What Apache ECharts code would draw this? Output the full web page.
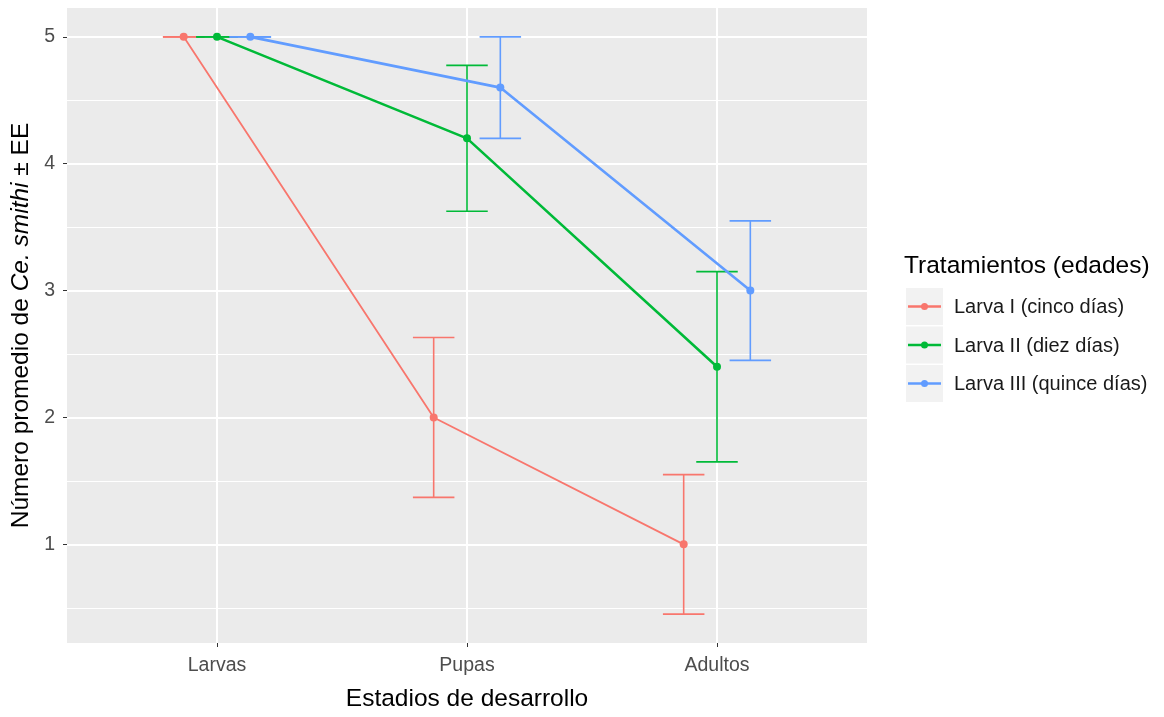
<!DOCTYPE html>
<html>
<head>
<meta charset="utf-8">
<script src="https://cdn.jsdelivr.net/npm/echarts@6/dist/echarts.min.js"></script>
<style>
  html, body { margin: 0; padding: 0; background: #fff; }
  #chart { width: 1164px; height: 717px; }
</style>
</head>
<body>
<div id="chart"></div>
<script>
// datos
var estadios = ['Larvas', 'Pupas', 'Adultos'];
var tratamientos = ['Larva I (cinco días)', 'Larva II (diez días)', 'Larva III (quince días)'];
var colores = ['#F8766D', '#00BA38', '#619CFF'];
var dodge = [-0.1333, 0, 0.1333];

var media = [
  [5, 2.0, 1.0],
  [5, 4.2, 2.4],
  [5, 4.6, 3.0]
];
var inferior = [
  [5, 1.37, 0.45],
  [5, 3.625, 1.65],
  [5, 4.2, 2.45]
];
var superior = [
  [5, 2.63, 1.55],
  [5, 4.775, 3.15],
  [5, 5.0, 3.55]
];
var yTicks = [1, 2, 3, 4, 5];
var yMinor = [0.5, 1.5, 2.5, 3.5, 4.5];

(function () {
  var myChart = echarts.init(document.getElementById('chart'));
  var capHalf = 0.083;
  var fuente = '"Liberation Sans", Arial, sans-serif';

  var series = [];

  // lineas de cuadricula (fondo estilo ggplot), en la capa de abajo
  var gridLines = [];
  yMinor.forEach(function (v) {
    gridLines.push({ yAxis: v, lineStyle: { width: 1 } });
  });
  yTicks.forEach(function (v) {
    gridLines.push({ yAxis: v, lineStyle: { width: 2 } });
  });
  estadios.forEach(function (e, i) {
    gridLines.push({ xAxis: i + 1, lineStyle: { width: 2 } });
  });
  series.push({
    type: 'line',
    data: [],
    zlevel: 0,
    z: 1,
    silent: true,
    markLine: {
      silent: true,
      symbol: 'none',
      label: { show: false },
      lineStyle: { color: '#ffffff', type: 'solid' },
      data: gridLines
    }
  });

  tratamientos.forEach(function (t, k) {
    var pts = [];
    var bars = [];
    for (var i = 0; i < estadios.length; i++) {
      var x = i + 1 + dodge[k];
      pts.push([x, media[k][i]]);
      bars.push([x, inferior[k][i], superior[k][i]]);
    }
    // barras de error
    series.push({
      type: 'custom',
      name: t + ' EE',
      zlevel: 1,
      z: 3,
      data: bars,
      renderItem: function (params, api) {
        var x = api.value(0);
        var lo = api.coord([x, api.value(1)]);
        var hi = api.coord([x, api.value(2)]);
        var l = api.coord([x - capHalf, 0])[0];
        var r = api.coord([x + capHalf, 0])[0];
        var st = { stroke: colores[k], lineWidth: 1.6 };
        return {
          type: 'group',
          children: [
            { type: 'line', shape: { x1: lo[0], y1: lo[1], x2: hi[0], y2: hi[1] }, style: st },
            { type: 'line', shape: { x1: l, y1: lo[1], x2: r, y2: lo[1] }, style: st },
            { type: 'line', shape: { x1: l, y1: hi[1], x2: r, y2: hi[1] }, style: st }
          ]
        };
      }
    });
    // medias
    series.push({
      type: 'line',
      name: t,
      zlevel: 1,
      z: 4,
      data: pts,
      symbol: 'circle',
      symbolSize: 8,
      itemStyle: { color: colores[k] },
      lineStyle: { color: colores[k], width: k === 0 ? 1.8 : 2.6 }
    });
  });

  // leyenda manual (estilo ggplot)
  var legendChildren = [
    { type: 'text', style: { x: 904, y: 266, text: 'Tratamientos (edades)', font: '24.5px ' + fuente, fill: '#000', verticalAlign: 'middle' } }
  ];
  tratamientos.forEach(function (t, k) {
    var y0 = 288 + k * 38.5;
    legendChildren.push({ type: 'rect', shape: { x: 906, y: y0, width: 37, height: 37 }, style: { fill: '#F2F2F2' } });
    legendChildren.push({ type: 'line', shape: { x1: 908, y1: y0 + 18.5, x2: 941, y2: y0 + 18.5 }, style: { stroke: colores[k], lineWidth: 2.4 } });
    legendChildren.push({ type: 'circle', shape: { cx: 924.5, cy: y0 + 18.5, r: 3.5 }, style: { fill: colores[k] } });
    legendChildren.push({ type: 'text', style: { x: 954, y: y0 + 19.5, text: t, font: '20px ' + fuente, fill: '#1A1A1A', verticalAlign: 'middle' } });
  });

  var option = {
    backgroundColor: '#ffffff',
    animation: false,
    grid: {
      left: 67,
      right: 297,
      top: 8,
      bottom: 72,
      show: true,
      backgroundColor: '#EBEBEB',
      borderWidth: 0
    },
    xAxis: {
      type: 'value',
      min: 0.4,
      max: 3.6,
      name: 'Estadios de desarrollo',
      nameLocation: 'middle',
      nameGap: 44,
      nameTextStyle: { fontSize: 24.5, color: '#000', fontFamily: 'Liberation Sans' },
      axisLine: { show: false },
      splitLine: { show: false },
      axisTick: { show: true, customValues: [1, 2, 3], length: 4, lineStyle: { color: '#333' } },
      axisLabel: {
        customValues: [1, 2, 3],
        color: '#4D4D4D',
        fontSize: 19.5,
        fontFamily: 'Liberation Sans',
        margin: 13,
        formatter: function (v) { return estadios[Math.round(v) - 1]; }
      }
    },
    yAxis: {
      type: 'value',
      min: 0.2225,
      max: 5.2275,
      name: '{n|Número promedio de }{i|Ce. smithi}{n| ± EE}',
      nameLocation: 'middle',
      nameGap: 31,
      nameTextStyle: {
        rich: {
          n: { fontSize: 24.5, color: '#000', fontFamily: 'Liberation Sans' },
          i: { fontSize: 24.5, color: '#000', fontFamily: 'Liberation Sans', fontStyle: 'italic' }
        }
      },
      axisLine: { show: false },
      splitLine: { show: false },
      axisTick: { show: true, customValues: yTicks, length: 4, lineStyle: { color: '#333' } },
      axisLabel: {
        customValues: yTicks,
        color: '#4D4D4D',
        fontSize: 19.5,
        fontFamily: 'Liberation Sans',
        margin: 12
      }
    },
    graphic: legendChildren,
    series: series
  };

  myChart.setOption(option);
  window.addEventListener('resize', function () {
    myChart.resize();
  });
})();
</script>
</body>
</html>
